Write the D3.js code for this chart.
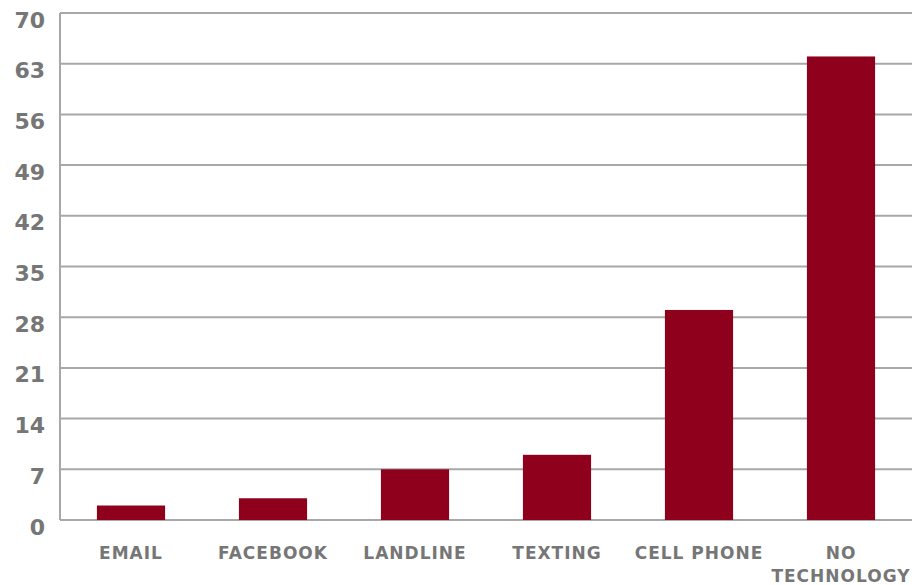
<!DOCTYPE html>
<html>
<head>
<meta charset="utf-8">
<script src="https://cdn.jsdelivr.net/npm/d3@7"></script>
<style>
  body { margin: 0; background: #fff; }
  text { font-family: "DejaVu Sans", sans-serif; font-weight: bold; fill: #767676; }
</style>
</head>
<body>
<svg></svg>
<script>
const width = 915;
const height = 585;
const margin = { top: 13, right: 3, bottom: 65, left: 60 };

const categories = ["EMAIL", "FACEBOOK", "LANDLINE", "TEXTING", "CELL PHONE", "NO TECHNOLOGY"];
const values = [2, 3, 7, 9, 29, 64];
const yTicks = [0, 7, 14, 21, 28, 35, 42, 49, 56, 63, 70];

const svg = d3.select("svg")
    .attr("width", width)
    .attr("height", height);

const xScale = d3.scaleBand()
    .domain(categories)
    .range([margin.left, width - margin.right])
    .paddingInner(0.52)
    .paddingOuter(0.26);

const yScale = d3.scaleLinear()
    .domain([0, 70])
    .range([height - margin.bottom, margin.top]);

// gridlines
svg.append('g')
    .selectAll('line')
    .data(yTicks)
    .enter()
    .append('line')
    .attr('x1', margin.left)
    .attr('x2', width - margin.right)
    .attr('y1', d => yScale(d))
    .attr('y2', d => yScale(d))
    .attr('stroke', '#a8a8a8')
    .attr('stroke-width', 2);

// left axis line
svg.append('line')
    .attr('x1', margin.left)
    .attr('x2', margin.left)
    .attr('y1', yScale(70))
    .attr('y2', yScale(0))
    .attr('stroke', '#a8a8a8')
    .attr('stroke-width', 2);

const yAxis = d3.axisLeft(yScale).tickValues(yTicks).tickSize(0).tickPadding(15);
svg.append('g')
    .attr('id', 'y-axis')
    .attr('transform', `translate(${margin.left}, 7)`)
    .call(yAxis)
    .call(g => g.select('.domain').remove())
    .selectAll('text')
    .style('font-size', '22px')
    .style('font-family', '"DejaVu Sans", sans-serif')
    .style('font-weight', 'bold')
    .attr('fill', '#767676');

svg.selectAll('.bar')
    .data(values)
    .enter()
    .append('rect')
    .attr('class', 'bar')
    .attr('x', (d, i) => xScale(categories[i]))
    .attr('y', d => yScale(d))
    .attr('width', xScale.bandwidth())
    .attr('height', d => yScale(0) - yScale(d))
    .attr('fill', '#8e001b');

// x labels, split multi-word "NO TECHNOLOGY"
const xLabels = svg.append('g').attr('id', 'x-axis');
categories.forEach(c => {
    const lines = c === "NO TECHNOLOGY" ? ["NO", "TECHNOLOGY"] : [c];
    const t = xLabels.append('text')
        .attr('text-anchor', 'middle')
        .style('font-size', '17px')
        .style('letter-spacing', '1px');
    lines.forEach((l, j) => {
        t.append('tspan')
            .attr('x', xScale(c) + xScale.bandwidth() / 2)
            .attr('y', 559 + j * 23)
            .text(l);
    });
});
</script>
</body>
</html>
